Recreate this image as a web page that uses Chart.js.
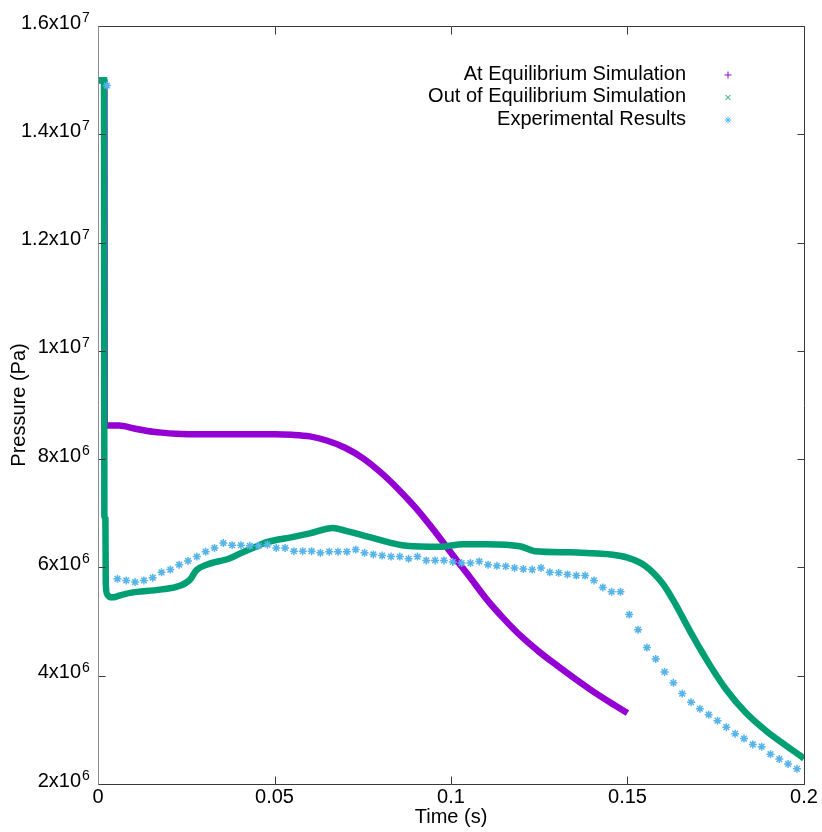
<!DOCTYPE html>
<html>
<head>
<meta charset="utf-8">
<script src="https://cdn.jsdelivr.net/npm/chart.js@4"></script>
<style>
  html, body { margin: 0; padding: 0; background: #ffffff; }
  canvas { display: block; }
</style>
</head>
<body>
<canvas id="chart" width="822" height="832"></canvas>
<script>
// ---------- data ----------
const seriesNames = ['At Equilibrium Simulation', 'Out of Equilibrium Simulation', 'Experimental Results'];

const xTicks = [0, 0.05, 0.1, 0.15, 0.2];
const xTickLabels = ['0', '0.05', '0.1', '0.15', '0.2'];
const yTicks = [2e6, 4e6, 6e6, 8e6, 1e7, 1.2e7, 1.4e7, 1.6e7];
const yTickMantissa = ['2x10', '4x10', '6x10', '8x10', '1x10', '1.2x10', '1.4x10', '1.6x10'];
const yTickExponent = ['6', '6', '6', '6', '7', '7', '7', '7'];

// At Equilibrium Simulation (time s, pressure Pa)
const eqTime = [0, 0.0018, 0.0019, 0.003, 0.006, 0.010, 0.014, 0.018, 0.022, 0.030, 0.040, 0.050, 0.055,
  0.060, 0.065, 0.070, 0.075, 0.080, 0.085, 0.090, 0.095, 0.100, 0.105, 0.110, 0.115, 0.120,
  0.125, 0.130, 0.135, 0.140, 0.145, 0.150];
const eqPressure = [15.0e6, 15.0e6, 8.62e6, 8.62e6, 8.62e6, 8.57e6, 8.52e6, 8.49e6, 8.47e6, 8.46e6, 8.46e6, 8.46e6, 8.45e6,
  8.42e6, 8.34e6, 8.21e6, 8.02e6, 7.76e6, 7.45e6, 7.10e6, 6.70e6, 6.27e6, 5.85e6, 5.42e6, 5.05e6, 4.72e6,
  4.44e6, 4.19e6, 3.95e6, 3.72e6, 3.51e6, 3.31e6];

// Out of Equilibrium Simulation
const neqTime = [0, 0.0017, 0.0018, 0.0021, 0.0022, 0.0026, 0.0034, 0.0045, 0.006, 0.0091, 0.0176, 0.0232,
  0.026, 0.0279, 0.0308, 0.0374, 0.040, 0.046, 0.048, 0.055, 0.060, 0.0666, 0.070, 0.078, 0.0874, 0.0968,
  0.1034, 0.110, 0.1195, 0.1223, 0.1237, 0.1336, 0.140, 0.145, 0.150, 0.155, 0.160, 0.1629, 0.1685, 0.1733,
  0.178, 0.1836, 0.1893, 0.1949, 0.1992, 0.2];
const neqPressure = [15.0e6, 15.0e6, 6.95e6, 6.9e6, 5.7e6, 5.5e6, 5.45e6, 5.45e6, 5.48e6, 5.53e6, 5.59e6, 5.66e6,
  5.77e6, 5.95e6, 6.05e6, 6.17e6, 6.25e6, 6.42e6, 6.47e6, 6.56e6, 6.63e6, 6.73e6, 6.68e6, 6.54e6, 6.40e6, 6.38e6,
  6.43e6, 6.43e6, 6.39e6, 6.33e6, 6.30e6, 6.28e6, 6.26e6, 6.24e6, 6.18e6, 6.03e6, 5.70e6, 5.40e6, 4.73e6, 4.20e6,
  3.74e6, 3.31e6, 2.98e6, 2.71e6, 2.51e6, 2.47e6];

// Experimental Results
const expTime = [0.0025,
  0.0055, 0.008, 0.0105, 0.013, 0.0155, 0.018, 0.0205, 0.023, 0.0255, 0.028,
  0.0305, 0.033, 0.0355, 0.038, 0.0405, 0.043, 0.0455, 0.048, 0.0505, 0.053,
  0.0555, 0.058, 0.0605, 0.063, 0.0655, 0.068, 0.0705, 0.073, 0.0755, 0.078,
  0.0805, 0.083, 0.0855, 0.088, 0.0905, 0.093, 0.0955, 0.098, 0.1005, 0.103,
  0.1055, 0.108, 0.1105, 0.113, 0.1155, 0.118, 0.1205, 0.123, 0.1255, 0.128,
  0.1305, 0.133, 0.1355, 0.138, 0.1405, 0.143, 0.1455, 0.148, 0.1505, 0.153,
  0.1555, 0.158, 0.1605, 0.163, 0.1655, 0.168, 0.1705, 0.173, 0.1755, 0.178,
  0.1805, 0.183, 0.1855, 0.188, 0.1905, 0.193, 0.1955, 0.198];
const expPressure = [14.9e6,
  5.79e6, 5.76e6, 5.73e6, 5.76e6, 5.81e6, 5.91e6, 5.96e6, 6.05e6, 6.12e6, 6.20e6,
  6.29e6, 6.36e6, 6.45e6, 6.41e6, 6.41e6, 6.40e6, 6.40e6, 6.42e6, 6.36e6, 6.36e6,
  6.30e6, 6.30e6, 6.30e6, 6.27e6, 6.29e6, 6.29e6, 6.29e6, 6.33e6, 6.27e6, 6.24e6,
  6.22e6, 6.20e6, 6.20e6, 6.16e6, 6.20e6, 6.13e6, 6.13e6, 6.13e6, 6.10e6, 6.08e6,
  6.08e6, 6.11e6, 6.05e6, 6.03e6, 6.02e6, 5.99e6, 5.97e6, 5.96e6, 5.99e6, 5.91e6,
  5.90e6, 5.87e6, 5.85e6, 5.85e6, 5.76e6, 5.63e6, 5.55e6, 5.55e6, 5.13e6, 4.85e6,
  4.52e6, 4.31e6, 4.07e6, 3.87e6, 3.67e6, 3.51e6, 3.39e6, 3.28e6, 3.17e6, 3.05e6,
  2.93e6, 2.84e6, 2.73e6, 2.69e6, 2.55e6, 2.46e6, 2.37e6, 2.28e6];

// ---------- chart ----------
const FONT = '"Liberation Sans", Arial, Helvetica, sans-serif';
Chart.defaults.font.family = FONT;
Chart.defaults.font.size = 20;
Chart.defaults.color = '#000000';

const toXY = (xs, ys) => xs.map((t, i) => ({ x: t, y: ys[i] }));
const legendStyles = ['cross', 'crossRot', 'star'];

const framePlugin = {
  id: 'gnuFrame',
  afterDatasetsDraw(chart) {
    const { ctx, chartArea: a, scales: { x, y } } = chart;
    const L = Math.round(a.left) + 0.5, R = Math.round(a.right) + 0.5;
    const T = Math.round(a.top) + 0.5, B = Math.round(a.bottom) + 0.5;
    ctx.save();
    ctx.lineWidth = 1;
    ctx.strokeStyle = '#3a3a3a';
    ctx.beginPath();
    xTicks.forEach(v => {
      const px = Math.round(x.getPixelForValue(v)) + 0.5;
      ctx.moveTo(px, B); ctx.lineTo(px, B - 8);
      ctx.moveTo(px, T); ctx.lineTo(px, T + 8);
    });
    yTicks.forEach(v => {
      const py = Math.round(y.getPixelForValue(v)) + 0.5;
      ctx.moveTo(L, py); ctx.lineTo(L + 7, py);
      ctx.moveTo(R, py); ctx.lineTo(R - 7, py);
    });
    ctx.moveTo(L, T); ctx.lineTo(R, T); ctx.lineTo(R, B); ctx.lineTo(L, B);
    ctx.stroke();
    ctx.strokeStyle = '#8a8a8a';
    ctx.beginPath();
    ctx.moveTo(L, T); ctx.lineTo(L, B);
    ctx.stroke();
    // exponents of the y tick labels (superscripts)
    ctx.font = '14px ' + FONT;
    ctx.fillStyle = '#000000';
    ctx.textAlign = 'left';
    ctx.textBaseline = 'alphabetic';
    yTicks.forEach((v, i) => {
      const py = y.getPixelForValue(v);
      ctx.fillText(yTickExponent[i], a.left - 16, py - 4);
    });
    ctx.restore();
  }
};

const legendPlugin = {
  id: 'gnuLegend',
  afterDraw(chart) {
    const { ctx, chartArea: a } = chart;
    ctx.save();
    ctx.font = '20px ' + FONT;
    ctx.fillStyle = '#000000';
    ctx.textAlign = 'right';
    ctx.textBaseline = 'alphabetic';
    const textRight = a.right - 118;
    const markX = a.right - 76;
    chart.data.datasets.forEach((ds, i) => {
      const base = a.top + 53.5 + i * 22.5;
      ctx.fillText(ds.label, textRight, base);
      ctx.strokeStyle = ds.legendColor;
      ctx.lineWidth = 1;
      Chart.helpers.drawPoint(ctx, { pointStyle: legendStyles[i], radius: 3.5, rotation: 0, borderWidth: 1 }, markX, base - 4.5);
    });
    ctx.restore();
  }
};

new Chart(document.getElementById('chart'), {
  type: 'scatter',
  data: {
    datasets: [
      {
        label: seriesNames[0],
        data: toXY(eqTime, eqPressure),
        showLine: true,
        borderColor: '#9400d3',
        legendColor: '#9400d3',
        backgroundColor: '#9400d3',
        borderWidth: 6.5,
        pointRadius: 0,
        cubicInterpolationMode: 'monotone',
        order: 3
      },
      {
        label: seriesNames[1],
        data: toXY(neqTime, neqPressure),
        showLine: true,
        borderColor: '#009e73',
        legendColor: '#009e73',
        backgroundColor: '#009e73',
        borderWidth: 6.5,
        pointRadius: 0,
        cubicInterpolationMode: 'monotone',
        order: 2
      },
      {
        label: seriesNames[2],
        data: toXY(expTime, expPressure),
        showLine: false,
        pointStyle: 'star',
        pointRadius: 4,
        pointBorderWidth: 1.5,
        borderColor: '#56b4e9',
        legendColor: '#56b4e9',
        backgroundColor: '#56b4e9',
        order: 1
      }
    ]
  },
  options: {
    responsive: false,
    animation: false,
    devicePixelRatio: 1,
    layout: { padding: { top: 26, right: 18, left: 0, bottom: 0 } },
    plugins: { legend: { display: false }, tooltip: { enabled: false } },
    scales: {
      x: {
        type: 'linear',
        min: 0, max: 0.2,
        afterBuildTicks: s => { s.ticks = xTicks.map(v => ({ value: v })); },
        afterFit: s => { s.height = 48; s.paddingLeft = 0; s.paddingRight = 0; },
        grid: { display: false, drawTicks: false },
        border: { display: false },
        ticks: {
          autoSkip: false, maxRotation: 0, padding: 1, color: '#000000',
          font: { size: 20 },
          callback: (v, i) => xTickLabels[i]
        },
        title: { display: true, text: 'Time (s)', color: '#000000', font: { size: 20 }, padding: { top: 0, bottom: 3 } }
      },
      y: {
        type: 'linear',
        min: 2e6, max: 1.6e7,
        afterBuildTicks: s => { s.ticks = yTicks.map(v => ({ value: v })); },
        afterFit: s => { s.width = 98; s.paddingTop = 0; s.paddingBottom = 0; },
        grid: { display: false, drawTicks: false },
        border: { display: false },
        ticks: {
          autoSkip: false, padding: 17, labelOffset: -3, color: '#000000',
          font: { size: 20 },
          callback: (v, i) => yTickMantissa[i]
        },
        title: { display: true, text: 'Pressure (Pa)', color: '#000000', font: { size: 20 }, padding: { top: 7, bottom: 0 } }
      }
    }
  },
  plugins: [framePlugin, legendPlugin]
});
</script>
</body>
</html>
